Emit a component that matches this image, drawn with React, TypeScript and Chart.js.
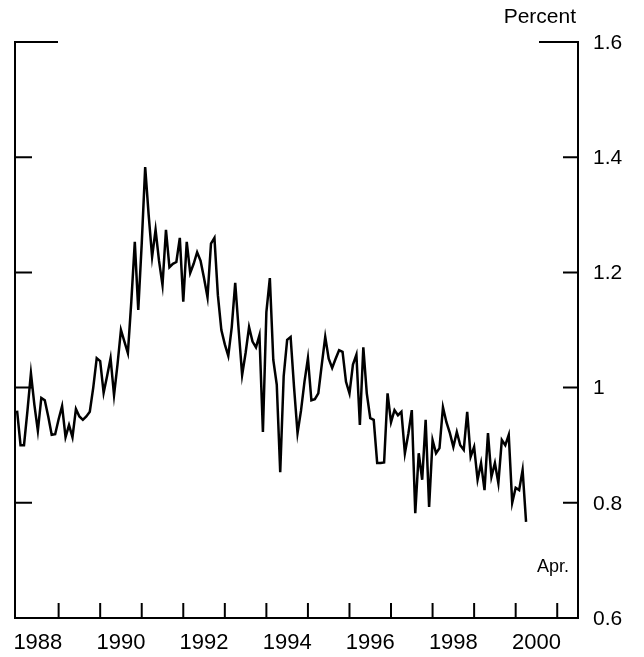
import React, { useEffect, useRef } from "react";
import { Chart, registerables } from "chart.js";

Chart.register(...registerables);

const START_YEAR = 1988;
const X_MIN = 1987.95;
const X_MAX = 2001.5;
const Y_MIN = 0.6;
const Y_MAX = 1.6;

// Monthly values, Jan 1988 - Apr 2000 (percent)
const monthlyValues: number[] = [
  // 1988
  0.96, 0.9, 0.9, 0.96, 1.025, 0.97, 0.925, 0.982, 0.978, 0.95, 0.918, 0.919,
  // 1989
  0.945, 0.968, 0.914, 0.935, 0.914, 0.963, 0.95, 0.944, 0.95, 0.958, 1.0, 1.051,
  // 1990
  1.046, 0.991, 1.02, 1.051, 0.987, 1.04, 1.1, 1.08, 1.06, 1.15, 1.253, 1.135,
  // 1991
  1.25, 1.383, 1.3, 1.227, 1.274, 1.22, 1.178, 1.274, 1.209, 1.215, 1.218, 1.26,
  // 1992
  1.149, 1.253, 1.199, 1.215, 1.235, 1.22, 1.19, 1.157, 1.25, 1.26, 1.16, 1.1,
  // 1993
  1.075, 1.055, 1.105, 1.182, 1.1, 1.022, 1.06, 1.105, 1.08, 1.07, 1.091, 0.923,
  // 1994
  1.131, 1.19, 1.048, 1.005, 0.853, 1.02, 1.083, 1.088, 1.0, 0.921, 0.96, 1.01,
  // 1995
  1.051, 0.978, 0.98, 0.99, 1.04, 1.088, 1.05, 1.034, 1.05, 1.065, 1.062, 1.01,
  // 1996
  0.99, 1.04, 1.057, 0.935, 1.07, 0.99, 0.947, 0.944, 0.869, 0.869, 0.87, 0.99,
  // 1997
  0.94, 0.961, 0.952, 0.958, 0.886, 0.92, 0.961, 0.782, 0.886, 0.84, 0.944, 0.793,
  // 1998
  0.909, 0.886, 0.895, 0.966, 0.94, 0.921, 0.897, 0.923, 0.9, 0.892, 0.958, 0.88,
  // 1999
  0.897, 0.84, 0.869, 0.822, 0.921, 0.845, 0.869, 0.834, 0.909, 0.9, 0.918, 0.8,
  // 2000
  0.826, 0.822, 0.857, 0.767,
];

const yTickValues = [0.6, 0.8, 1.0, 1.2, 1.4, 1.6];
const yTickLabels = ["0.6", "0.8", "1", "1.2", "1.4", "1.6"];
const xTickYears = [1989, 1990, 1991, 1992, 1993, 1994, 1995, 1996, 1997, 1998, 1999, 2000, 2001];
const xLabelYears = [1988, 1990, 1992, 1994, 1996, 1998, 2000];
const unitLabel = "Percent";
const endNote = "Apr.";

const FONT = '"Liberation Sans", Arial, sans-serif';

const framePlugin = {
  id: "framePlugin",
  afterDraw(chart: any) {
    const { ctx, chartArea, scales } = chart;
    const xs = scales.x;
    const ys = scales.y;
    const { left, right, top, bottom } = chartArea;
    ctx.save();
    ctx.strokeStyle = "#000";
    ctx.fillStyle = "#000";
    ctx.lineWidth = 2;
    ctx.lineCap = "square";
    ctx.beginPath();
    ctx.moveTo(left, top);
    ctx.lineTo(left, bottom);
    ctx.lineTo(right, bottom);
    ctx.lineTo(right, top);
    ctx.stroke();

    // y ticks
    yTickValues.forEach((v) => {
      const y = ys.getPixelForValue(v);
      const isTop = v === Y_MAX;
      const lenL = isTop ? 42 : 16;
      const lenR = isTop ? 38 : 14;
      ctx.beginPath();
      ctx.moveTo(left, y);
      ctx.lineTo(left + lenL, y);
      ctx.moveTo(right - lenR, y);
      ctx.lineTo(right, y);
      ctx.stroke();
    });

    // x ticks
    xTickYears.forEach((yr) => {
      const x = xs.getPixelForValue(yr);
      ctx.beginPath();
      ctx.moveTo(x, bottom);
      ctx.lineTo(x, bottom - 14);
      ctx.stroke();
    });

    // y labels on right
    ctx.font = `21px ${FONT}`;
    ctx.textAlign = "left";
    ctx.textBaseline = "middle";
    yTickValues.forEach((v, i) => {
      ctx.fillText(yTickLabels[i], right + 15, ys.getPixelForValue(v) + 1);
    });

    // x labels
    ctx.font = `22px ${FONT}`;
    ctx.textAlign = "center";
    xLabelYears.forEach((yr) => {
      ctx.fillText(String(yr), xs.getPixelForValue(yr + 0.5), bottom + 25);
    });

    // unit label
    ctx.font = `21px ${FONT}`;
    ctx.textAlign = "right";
    ctx.fillText(unitLabel, right - 2, 17);

    // end note
    ctx.font = `18px ${FONT}`;
    ctx.textAlign = "right";
    ctx.fillText(endNote, right - 9, 567);
    ctx.restore();
  },
};

export default function App() {
  const ref = useRef<HTMLCanvasElement | null>(null);
  useEffect(() => {
    if (!ref.current) return;
    const points = monthlyValues.map((v, i) => ({ x: START_YEAR + i / 12, y: v }));
    const chart = new Chart(ref.current, {
      type: "line",
      data: {
        datasets: [
          {
            data: points,
            borderColor: "#000",
            borderWidth: 2.5,
            pointRadius: 0,
            tension: 0,
            fill: false,
          },
        ],
      },
      options: {
        animation: false,
        responsive: false,
        devicePixelRatio: 1,
        layout: { padding: { left: 15, right: 66, top: 42, bottom: 39 } },
        plugins: { legend: { display: false }, tooltip: { enabled: false } },
        scales: {
          x: { type: "linear", min: X_MIN, max: X_MAX, display: false },
          y: { type: "linear", min: Y_MIN, max: Y_MAX, display: false },
        },
      },
      plugins: [framePlugin],
    });
    return () => chart.destroy();
  }, []);
  return (
    <div style={{ position: "absolute", left: 0, top: 0, width: 644, height: 657, background: "#fff" }}>
      <canvas ref={ref} width={644} height={657} />
    </div>
  );
}
